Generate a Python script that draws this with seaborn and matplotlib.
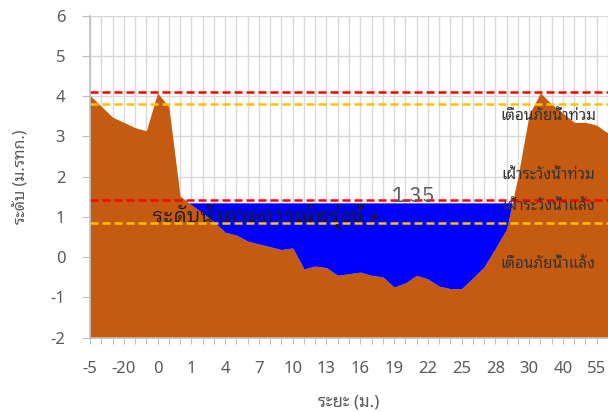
import numpy as np
import matplotlib
matplotlib.use("Agg")
import matplotlib.pyplot as plt
import seaborn as sns

# ground elevation (m. MSL) at each survey point across the river
ground = [4.02, 3.75, 3.48, 3.35, 3.22, 3.14, 4.08, 3.74, 1.52, 1.30,
          1.10, 0.88, 0.62, 0.55, 0.40, 0.33, 0.26, 0.19, 0.23, -0.29,
          -0.22, -0.26, -0.45, -0.41, -0.37, -0.45, -0.49, -0.74, -0.64, -0.45,
          -0.54, -0.72, -0.78, -0.78, -0.52, -0.24, 0.22, 0.70, 2.00, 3.55,
          4.08, 3.80, 3.58, 3.35, 3.35, 3.28, 3.08]
# tick labels shown at every third point
x_labels = ["-5", "-20", "0", "1", "4", "7", "10", "13", "16", "19",
            "22", "25", "28", "30", "40", "55"]
label_step = 3

water_level = 1.35          # forecast for tomorrow
red_levels = [4.10, 1.42]
yellow_levels = [3.80, 0.85]
level_texts = ["เตือนภัยน้ำท่วม", "เฝ้าระวังน้ำท่วม", "เฝ้าระวังน้ำแล้ง", "เตือนภัยน้ำแล้ง"]
level_text_y = [3.41, 1.93, 1.16, -0.26]

sns.set_theme(style="white")
plt.rcParams['font.family'] = ['Noto Sans Thai Looped', 'DejaVu Sans']
plex = ['IBM Plex Sans Thai Looped', 'DejaVu Sans']

x = np.arange(len(ground))
g = np.array(ground)

fig = plt.figure(figsize=(6.08, 4.12), dpi=100)
ax = fig.add_axes([90 / 608, 1 - 337.7 / 412, 1 - 90 / 608, (337.7 - 15.7) / 412])

ax.fill_between(x, -2, g, color="#C55A11", lw=0, zorder=2)
ax.fill_between(x, g, water_level, where=g < water_level, interpolate=True,
                color="#0000FF", lw=0, zorder=2)

for v in red_levels:
    ax.axhline(v, color="#FF0000", lw=1.8, dashes=(3.2, 1.6), zorder=3)
for v in yellow_levels:
    ax.axhline(v, color="#FFC000", lw=1.8, dashes=(3.2, 1.6), zorder=3)

ax.set_xlim(0, len(ground) - 1)
ax.set_ylim(-2, 6)

ax.set_xticks(x)
ax.set_xticklabels([x_labels[i // label_step] if i % label_step == 0 else "" for i in x])
ax.set_yticks(range(-2, 7))
ax.grid(True, color="#D9D9D9", lw=1.0, zorder=0)
ax.set_axisbelow(True)
ax.tick_params(axis="x", length=4.5, width=0.8, color="#BFBFBF", pad=12,
               labelsize=12, labelcolor="#595959", direction="out", bottom=True)
ax.tick_params(axis="y", length=5.8, width=0.8, color="#BFBFBF", pad=12,
               labelsize=12, labelcolor="#595959", direction="out", left=True)
for s in ["top", "right"]:
    ax.spines[s].set_visible(False)
for s in ["left", "bottom"]:
    ax.spines[s].set_color("#BFBFBF")
    ax.spines[s].set_linewidth(1.2)
    ax.spines[s].set_zorder(4)

ax.set_xlabel("ระยะ (ม.)", fontsize=12, fontweight="bold", color="#595959", labelpad=13)
ax.set_ylabel("ระดับ (ม.รทก.)", fontsize=11.5, fontweight="bold", color="#595959", labelpad=15)

ax.text(5.5, 0.89, "ระดับน้ำคาดการณ์พรุ่งนี้ +", fontsize=14, family=plex,
        color="#1a1a1a", va="baseline", ha="left", zorder=5)
ax.text(26.8, 1.36, f"{water_level:.2f}", fontsize=15, family=plex,
        color="#595959", va="baseline", ha="left", zorder=5)
for t, y in zip(level_texts, level_text_y):
    ax.text(40.7, y, t, fontsize=11, color="#333333", va="baseline", ha="center", zorder=5)

fig.savefig("out.png", dpi=100)
